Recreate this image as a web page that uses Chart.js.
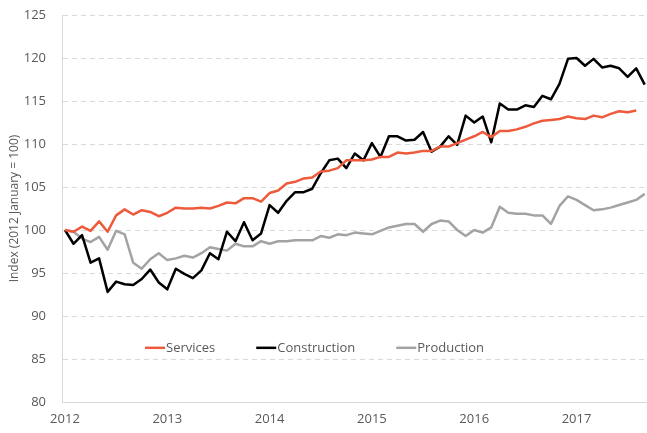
<!DOCTYPE html>
<html>
<head>
<meta charset="utf-8">
<script src="https://cdn.jsdelivr.net/npm/chart.js@4"></script>
<style>
    html, body { margin: 0; padding: 0; background: #fff; }
</style>
</head>
<body>
<canvas id="index-chart" width="647" height="433"></canvas>
<script>
// monthly index, Jan 2012 = 100, running to Sep 2017
var years = [2012, 2013, 2014, 2015, 2016, 2017]
var seriesNames = ["Services", "Construction", "Production"]

var services = [100, 99.8, 100.4, 99.9, 101.0, 99.8, 101.7, 102.4, 101.8, 102.3,
    102.1, 101.6, 102.0, 102.6, 102.5, 102.5, 102.6, 102.5, 102.8, 103.2,
    103.1, 103.7, 103.7, 103.3, 104.3, 104.6, 105.4, 105.6, 106.0, 106.1,
    106.8, 106.9, 107.2, 108.1, 108.1, 108.1, 108.2, 108.5, 108.5, 109.0,
    108.9, 109.0, 109.2, 109.2, 109.7, 109.7, 110.1, 110.5, 110.9, 111.4,
    110.8, 111.5, 111.5, 111.7, 112.0, 112.4, 112.7, 112.8, 112.9, 113.2,
    113.0, 112.9, 113.3, 113.1, 113.5, 113.8, 113.7, 113.9]

var construction = [100, 98.4, 99.4, 96.2, 96.7, 92.8, 94.0, 93.7, 93.6, 94.3,
    95.4, 93.9, 93.1, 95.5, 94.9, 94.4, 95.3, 97.3, 96.6, 99.8,
    98.7, 100.9, 98.8, 99.6, 102.9, 102.0, 103.4, 104.4, 104.4, 104.8,
    106.6, 108.1, 108.3, 107.2, 108.9, 108.1, 110.1, 108.5, 110.9, 110.9,
    110.4, 110.5, 111.4, 109.1, 109.7, 110.9, 109.9, 113.3, 112.5, 113.2,
    110.2, 114.7, 114.0, 114.0, 114.5, 114.3, 115.6, 115.2, 117.0, 119.9,
    120.0, 119.1, 119.9, 118.9, 119.1, 118.8, 117.8, 118.8, 116.9]

var production = [100, 99.8, 99.0, 98.6, 99.2, 97.7, 99.9, 99.5, 96.2, 95.5,
    96.6, 97.3, 96.5, 96.7, 97.0, 96.8, 97.3, 98.0, 97.8, 97.6,
    98.4, 98.1, 98.1, 98.7, 98.4, 98.7, 98.7, 98.8, 98.8, 98.8,
    99.3, 99.1, 99.5, 99.4, 99.7, 99.6, 99.5, 99.9, 100.3, 100.5,
    100.7, 100.7, 99.8, 100.7, 101.1, 101.0, 100.0, 99.3, 100.0, 99.7,
    100.3, 102.7, 102.0, 101.9, 101.9, 101.7, 101.7, 100.7, 102.8, 103.9,
    103.5, 102.9, 102.3, 102.4, 102.6, 102.9, 103.2, 103.5, 104.2]

var colors = ["#ee5a3c", "#000000", "#a3a3a3"]

function toPoints(arr) {
    // month number on x, so the year ticks can sit on every 12th month
    return arr.map(function (v, i) { return { x: i, y: v } })
}

// legend drawn inside the plot, like the original
var insideLegend = {
    id: 'insideLegend',
    afterDatasetsDraw: function (chart) {
        var ctx = chart.ctx
        var x = chart.chartArea.left + 83
        var y = chart.scales.y.getPixelForValue(86.3)
        ctx.save()
        ctx.font = "13px 'Open Sans', sans-serif"
        ctx.textBaseline = 'middle'
        chart.data.datasets.forEach(function (ds) {
            ctx.strokeStyle = ds.borderColor
            ctx.lineWidth = 2.5
            ctx.beginPath()
            ctx.moveTo(x, y)
            ctx.lineTo(x + 20, y)
            ctx.stroke()
            ctx.fillStyle = '#595959'
            ctx.fillText(ds.label, x + 21, y)
            x += 21 + ctx.measureText(ds.label).width + 41
        })
        ctx.restore()
    }
}

Chart.defaults.font.family = "'Open Sans', sans-serif"
Chart.defaults.font.size = 13
Chart.defaults.color = '#595959'

var allSeries = [services, construction, production]

new Chart("index-chart", {
    type: 'line',
    data: {
        datasets: allSeries.map(function (s, k) {
            return {
                label: seriesNames[k],
                data: toPoints(s),
                borderColor: colors[k],
                backgroundColor: colors[k],
                borderWidth: 2.5,
                borderJoinStyle: 'round',
                pointRadius: 0,
                tension: 0,
                fill: false
            }
        })
    },
    options: {
        responsive: false,
        devicePixelRatio: 1,
        animation: false,
        layout: { padding: { top: 15, right: 1, bottom: 0, left: 0 } },
        plugins: {
            legend: { display: false },
            tooltip: { enabled: false }
        },
        scales: {
            x: {
                type: 'linear',
                min: -0.35,
                max: 68.15,
                afterBuildTicks: function (scale) {
                    scale.ticks = years.map(function (yr, k) { return { value: k * 12 } })
                },
                ticks: {
                    padding: 9,
                    maxRotation: 0,
                    autoSkip: false,
                    callback: function (value) { return years[Math.round(value / 12)] }
                },
                grid: { display: false, drawTicks: false },
                border: { display: true, color: '#d9d9d9', width: 1 },
                afterFit: function (scale) { scale.height = 31 }
            },
            y: {
                min: 80,
                max: 125,
                ticks: { stepSize: 5, padding: 0 },
                // invisible tick marks give the gap between labels and axis
                grid: { color: '#d9d9d9', lineWidth: 1, drawTicks: true, tickLength: 16, tickColor: 'rgba(0,0,0,0)' },
                border: { display: true, color: '#d9d9d9', width: 1, dash: [5, 4] },
                title: {
                    display: true,
                    text: 'Index (2012 January = 100)',
                    font: { size: 12 },
                    padding: { top: 7, bottom: 0 }
                },
                afterFit: function (scale) { scale.width = 62 }
            }
        }
    },
    plugins: [insideLegend]
});
</script>
</body>
</html>
